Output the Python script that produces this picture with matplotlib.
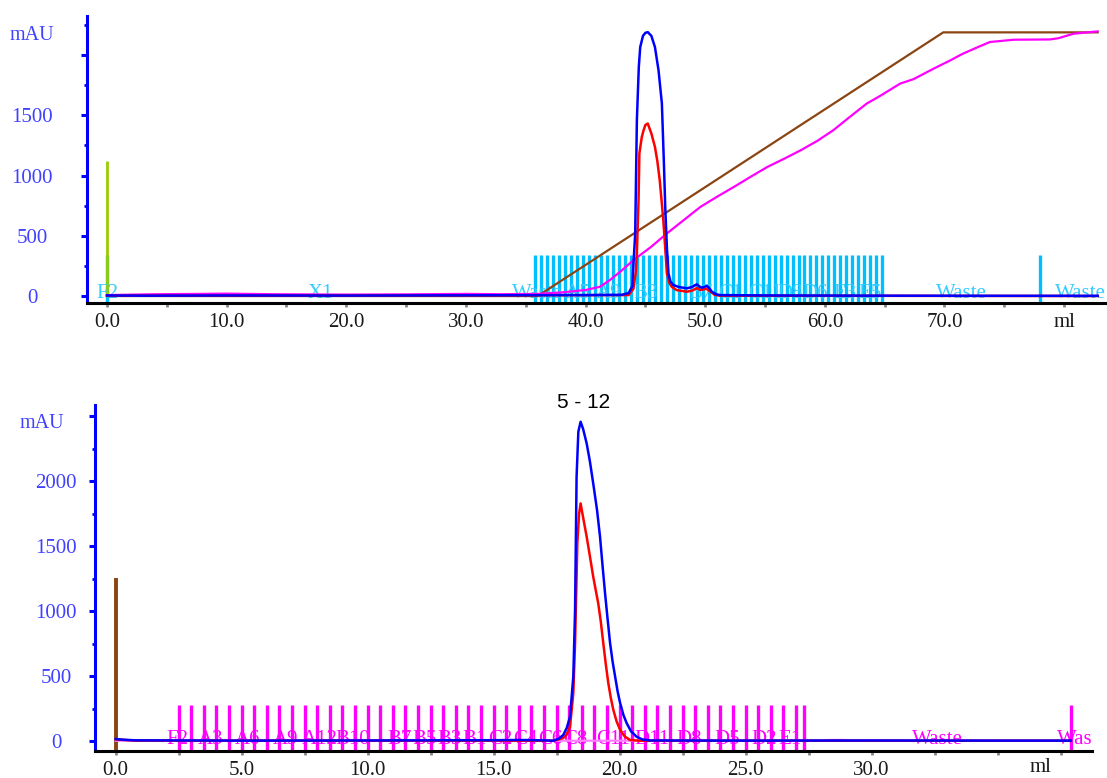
import matplotlib
matplotlib.use("Agg")
import matplotlib.pyplot as plt
from matplotlib.ticker import MultipleLocator

# ---------------- top run (ml, mAU) ----------------
top_uv280_ml = [0, 3, 10, 20, 30, 40, 43.0, 43.6, 43.9, 44.15, 44.29, 44.45, 44.57, 44.8, 45.0, 45.2,
                45.5, 45.8, 46.1, 46.38, 46.55, 46.66, 46.8, 46.93, 47.1, 47.35, 47.8, 48.47, 48.9,
                49.3, 49.5, 49.72, 50.14, 50.3, 50.56, 50.9, 51.25, 55, 65, 75, 82.8]
top_uv280 = [5, 3, 5, 4, 6, 8, 10, 25, 80, 520, 1460, 1900, 2067, 2160, 2185, 2191,
             2160, 2067, 1874, 1598, 1100, 740, 400, 188, 120, 91, 75, 64, 75,
             97, 80, 69, 83, 70, 36, 15, 8, 5, 3, 2, 2]

top_uv260_ml = [0, 43.6, 44.0, 44.2, 44.29, 44.43, 44.5, 44.7, 44.85, 45.0, 45.2, 45.5, 45.8, 46.0,
                46.2, 46.5, 46.8, 47.0, 47.2, 47.6, 48.47, 48.9, 49.3, 49.6, 50.1, 50.4, 50.8, 51.2, 82.8]
top_uv260 = [3, 8, 60, 200, 356, 800, 1184, 1320, 1376, 1420, 1432, 1350, 1238, 1120,
             962, 630, 190, 110, 77, 50, 36, 45, 66, 50, 60, 40, 10, 3, 0]

top_conc_ml = [0, 36.0, 69.9, 82.8]
top_conc = [0, 0, 2189, 2189]

top_cond_ml = [0, 4, 8, 10, 14, 20, 25, 30, 33, 36, 38, 40, 41.2, 42, 43, 44, 45.5, 46.8, 48.2,
               49.6, 51, 52.4, 53.8, 55.2, 56.6, 58, 59.4, 60.7, 62, 63.5, 64.6, 66.3, 67.4,
               69.1, 70.5, 71.5, 72.8, 73.8, 75.8, 78.8, 79.5, 80.8, 82.8]
top_cond = [8, 15, 18, 20, 15, 12, 14, 18, 15, 18, 30, 50, 77, 130, 210, 298, 410, 520, 630,
            740, 825, 906, 990, 1072, 1140, 1211, 1290, 1376, 1480, 1598, 1660, 1764, 1800,
            1888, 1957, 2010, 2067, 2109, 2128, 2130, 2140, 2178, 2197]

top_frac_ml = [0.0, 35.8, 36.3, 36.8, 37.3, 37.8, 38.3, 38.8, 39.3, 39.8, 40.3, 40.8, 41.3, 41.8,
               42.3, 42.8, 43.3, 43.8, 44.3, 44.8, 45.3, 45.8, 46.3, 46.8, 47.3, 47.8, 48.3,
               48.8, 49.3, 49.8, 50.3, 50.8, 51.3, 51.8, 52.3, 52.8, 53.3, 53.8, 54.3, 54.8,
               55.3, 55.8, 56.3, 56.8, 57.3, 57.8, 58.3, 58.8, 59.3, 59.8, 60.3, 60.8, 61.3,
               61.8, 62.3, 62.8, 63.3, 63.8, 64.3, 64.8, 78.0]
top_frac_labels = ["F2", "X1", "Waste", "A5", "A9", "B3", "B7", "C1", "C11", "D8", "D6", "E3", "E5",
                   "Waste", "Waste"]
top_frac_label_ml = [0.0, 17.8, 36.0, 39.3, 41.9, 45.0, 49.6, 52.1, 55.0, 57.1, 59.2, 61.7, 63.8,
                     71.4, 81.4]
top_inject_ml = 0.0
top_inject_h = 1120

# ---------------- bottom run "5 - 12" ----------------
bot_uv280_ml = [0.0, 0.3, 0.8, 5, 10, 15, 16, 17, 17.37, 17.6, 17.76, 17.9, 18.03, 18.16, 18.23,
                18.29, 18.36, 18.45, 18.55, 18.69, 18.82, 18.95, 19.1, 19.22, 19.32, 19.42, 19.52,
                19.62, 19.72, 19.82, 19.92, 20.02, 20.15, 20.28, 20.45, 20.67, 20.9, 21.2, 25, 30,
                35, 37.9]
bot_uv280 = [15, 10, 5, 3, 4, 6, 8, 5, 2, 20, 46, 100, 187, 495, 1008,
             2033, 2380, 2456, 2400, 2290, 2150, 1982, 1780, 1572, 1350, 1136, 940,
             752, 610, 495, 380, 290, 200, 136, 75, 33, 12, 4, 3, 4,
             3, 3]

bot_uv260_ml = [0.0, 0.8, 17.4, 17.76, 17.9, 18.03, 18.16, 18.23, 18.32, 18.39, 18.45, 18.55,
                18.69, 18.82, 18.95, 19.05, 19.15, 19.25, 19.35, 19.45, 19.55, 19.65, 19.75,
                19.88, 20.02, 20.2, 20.41, 20.8, 37.9]
bot_uv260 = [12, 3, 2, 23, 50, 110, 367, 752, 1521, 1750, 1828, 1720,
             1572, 1420, 1264, 1160, 1059, 920, 752, 590, 444, 330, 238,
             150, 85, 35, 8, 2, 2]

bot_cond_ml = [0.0, 28.0, 28.3, 28.9, 29.2, 37.9]
bot_cond = [2, 2, 8, 8, 2, 2]

bot_frac_ml = [2.5, 3.0, 3.5, 4.0, 4.5, 5.0, 5.5, 6.0, 6.5, 7.0, 7.5, 8.0, 8.5, 9.0, 9.5, 10.0,
               10.5, 11.0, 11.5, 12.0, 12.5, 13.0, 13.5, 14.0, 14.5, 15.0, 15.5, 16.0, 16.5,
               17.0, 17.5, 18.0, 18.5, 19.0, 19.5, 20.0, 20.5, 21.0, 21.5, 22.0, 22.5, 23.0,
               23.5, 24.0, 24.5, 25.0, 25.5, 26.0, 26.5, 27.0, 27.3, 37.9]
bot_frac_labels = ["F2", "A3", "A6", "A9", "A12", "B10", "B7", "B5", "B3", "B1", "C2", "C4", "C6",
                   "C8", "C11", "D11", "D8", "D5", "D2", "E1", "Waste", "Waste"]
bot_frac_label_ml = [2.45, 3.75, 5.25, 6.75, 8.1, 9.4, 11.25, 12.25, 13.25, 14.25, 15.25, 16.25,
                     17.25, 18.25, 19.75, 21.3, 22.75, 24.25, 25.75, 26.75, 32.6, 38.35]
bot_inject_ml = 0.0
bot_inject_h = 1254

serif = "Liberation Serif"
blue_txt = "#4040ff"

fig = plt.figure(figsize=(11.07, 7.78), dpi=100)


def style_axes(ax, xlim, ylim, xmajor, xminor, ypad, ymax_lab, xlabels):
    ax.set_xlim(*xlim)
    ax.set_ylim(*ylim)
    for s in ["top", "right"]:
        ax.spines[s].set_visible(False)
    ax.spines["left"].set_color("#0000ff")
    ax.spines["left"].set_linewidth(2.2)
    ax.spines["bottom"].set_color("black")
    ax.spines["bottom"].set_linewidth(2.2)
    ax.yaxis.set_minor_locator(MultipleLocator(250))
    ax.set_yticks(range(0, ymax_lab + 1, 500))
    ax.set_yticklabels([str(v) if v < ymax_lab else "" for v in range(0, ymax_lab + 1, 500)])
    ax.tick_params(axis="y", which="major", colors="#0000ff", length=4, width=2.2,
                   pad=ypad, labelcolor=blue_txt, labelsize=15)
    ax.tick_params(axis="y", which="minor", colors="#0000ff", length=2, width=2)
    for lab in ax.get_yticklabels():
        lab.set_fontfamily(serif)
        lab.set_horizontalalignment("center")
    ax.set_xticks(xmajor)
    ax.set_xticklabels(xlabels)
    ax.xaxis.set_minor_locator(MultipleLocator(xminor))
    ax.tick_params(axis="x", which="both", colors="#888888", length=3, width=2,
                   labelcolor="#1a1a1a", labelsize=15, pad=4)
    for lab in ax.get_xticklabels():
        lab.set_fontfamily(serif)


# ---------- top panel ----------
ax1 = fig.add_axes([0.0786, 0.6105, 0.9194, 0.3685])
ax1.vlines(top_frac_ml, -58, 340, color="#00bfff", lw=2.4, zorder=2)
ax1.vlines([top_inject_ml], 0, top_inject_h, color="#99cc00", lw=2.0, zorder=2)
for t, xm in zip(top_frac_labels, top_frac_label_ml):
    ax1.text(xm, -15, t, color="#33ccff", fontsize=15, family=serif, ha="center",
             va="baseline", zorder=3, clip_on=True)
ax1.plot(top_conc_ml, top_conc, color="#8b4513", lw=1.6, zorder=4)
ax1.plot(top_cond_ml, top_cond, color="#ff00ff", lw=1.6, zorder=4)
ax1.plot(top_uv260_ml, top_uv260, color="#ff0000", lw=1.8, zorder=5)
ax1.plot(top_uv280_ml, top_uv280, color="#0000ff", lw=1.8, zorder=6)
style_axes(ax1, (-1.67, 83.4), (-58, 2322), [0, 10, 20, 30, 40, 50, 60, 70, 80], 5,
           35.6, 2000, ["0.0", "10.0", "20.0", "30.0", "40.0", "50.0", "60.0", "70.0", "ml"])
ax1.text(32 / 1107, 1 - 35 / 778, "mAU", transform=fig.transFigure, ha="center", va="center",
         color=blue_txt, fontsize=14.5, family=serif)

# ---------- bottom panel ----------
ax2 = fig.add_axes([0.0858, 0.0347, 0.9006, 0.4447])
ax2.vlines(bot_frac_ml, -77, 277, color="#ff00ff", lw=2.4, zorder=2)
ax2.vlines([bot_inject_ml], -77, bot_inject_h, color="#8b4513", lw=2.8, zorder=2)
for t, xm in zip(bot_frac_labels, bot_frac_label_ml):
    ax2.text(xm, -25, t, color="#ff00ff", fontsize=15, family=serif, ha="center",
             va="baseline", zorder=3, clip_on=True)
ax2.plot(bot_cond_ml, bot_cond, color="#ff80ff", lw=1.6, zorder=4)
ax2.plot(bot_uv260_ml, bot_uv260, color="#ff0000", lw=1.8, zorder=5)
ax2.plot(bot_uv280_ml, bot_uv280, color="#0000ff", lw=1.8, zorder=6)
style_axes(ax2, (-0.82, 38.74), (-77, 2585), [0, 5, 10, 15, 20, 25, 30, 35], 2.5,
           24, 2500, ["0.0", "5.0", "10.0", "15.0", "20.0", "25.0", "30.0", ""])
ax2.text(42 / 1107, 1 - 423 / 778, "mAU", transform=fig.transFigure, ha="center", va="center",
         color=blue_txt, fontsize=14.5, family=serif)
ax2.text(1041 / 1107, 1 - 767 / 778, "ml", transform=fig.transFigure, ha="center", va="center",
         color="#1a1a1a", fontsize=15, family=serif)
fig.text(584 / 1107, 1 - 402 / 778, "5 - 12", ha="center", va="center", fontsize=15,
         family="Liberation Sans", color="black")

fig.savefig("out.png", dpi=100)
